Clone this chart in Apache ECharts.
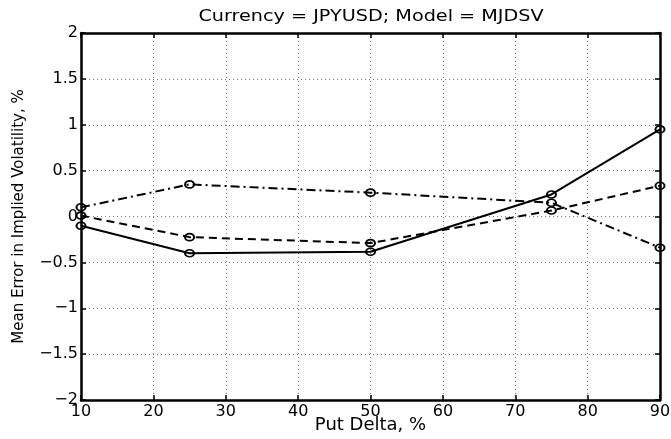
<!DOCTYPE html>
<html><head><meta charset="utf-8">
<script src="https://cdn.jsdelivr.net/npm/echarts@6/dist/echarts.min.js"></script>
<style>html,body{margin:0;padding:0;background:#fff}#c{width:671px;height:439px}</style>
</head><body><div id="c"></div>
<script>
const putDelta = [10, 25, 50, 75, 90];
const solidSeries = [-0.10, -0.40, -0.385, 0.24, 0.95];
const dashedSeries = [0.01, -0.225, -0.29, 0.065, 0.335];
const dashDotSeries = [0.10, 0.35, 0.26, 0.15, -0.34];
const titleText = 'Currency = JPYUSD; Model = MJDSV';
const xName = 'Put Delta, %';
const yName = 'Mean Error in Implied Volatility, %';

const font = 'DejaVu Sans, Verdana, sans-serif';
function pairs(ys){ return putDelta.map((x,i)=>[x, ys[i]]); }
function mk(name, ys, type){
  return {name, type:'line', data:pairs(ys), symbol:'circle', symbolSize:[9,7],
    lineStyle:{color:'#000', width:2, type:type},
    itemStyle:{color:'rgba(255,255,255,0)', borderColor:'#000', borderWidth:1.8},
    emphasis:{disabled:true}, animation:false};
}
const chart = echarts.init(document.getElementById('c'), null, {renderer:'canvas'});
const minusFmt = v => String(v).replace('-', '\u2212');
const tickStyle = {inside:true, length:5, lineStyle:{color:'#000', width:1.5}};
const frameLine = {onZero:false, lineStyle:{color:'#000', width:2.5}};
chart.setOption({
  animation:false,
  backgroundColor:'#fff',
  graphic:[{type:'text', x:371, y:17, scaleX:1.2, silent:true,
    style:{text:titleText, font:'16px ' + font, textAlign:'center',
      textVerticalAlign:'middle', fill:'#000'}}],
  grid:{left:81, right:11, top:33, bottom:39, containLabel:false, outerBoundsMode:'none'},
  xAxis:[{type:'value', min:10, max:90, interval:10, position:'bottom',
    name:xName, nameLocation:'middle', nameGap:16, nameMoveOverlap:false,
    nameTextStyle:{fontFamily:font, fontSize:18, color:'#000', verticalAlign:'top'},
    axisLine:frameLine, axisTick:tickStyle,
    axisLabel:{fontFamily:font, fontSize:16, color:'#000', margin:4},
    splitLine:{show:true, lineStyle:{color:'#777', type:[1,3], width:1}}},
   {type:'value', min:10, max:90, interval:10, position:'top',
    axisLine:frameLine, axisTick:tickStyle,
    axisLabel:{show:false}, splitLine:{show:false}}],
  yAxis:[{type:'value', min:-2, max:2, interval:0.5, position:'left',
    name:yName, nameLocation:'middle', nameGap:54, nameRotate:90, nameMoveOverlap:false,
    nameTextStyle:{fontFamily:font, fontSize:15, color:'#000'},
    axisLine:frameLine, axisTick:tickStyle,
    axisLabel:{fontFamily:font, fontSize:16, color:'#000', margin:3, formatter:minusFmt},
    splitLine:{show:true, lineStyle:{color:'#777', type:[1,3], width:1}}},
   {type:'value', min:-2, max:2, interval:0.5, position:'right',
    axisLine:frameLine, axisTick:tickStyle,
    axisLabel:{show:false}, splitLine:{show:false}}],
  series:[
    mk('solid', solidSeries, 'solid'),
    mk('dashed', dashedSeries, [8,5]),
    mk('dashdot', dashDotSeries, [9,4,2,4])
  ]
});
</script></body></html>
